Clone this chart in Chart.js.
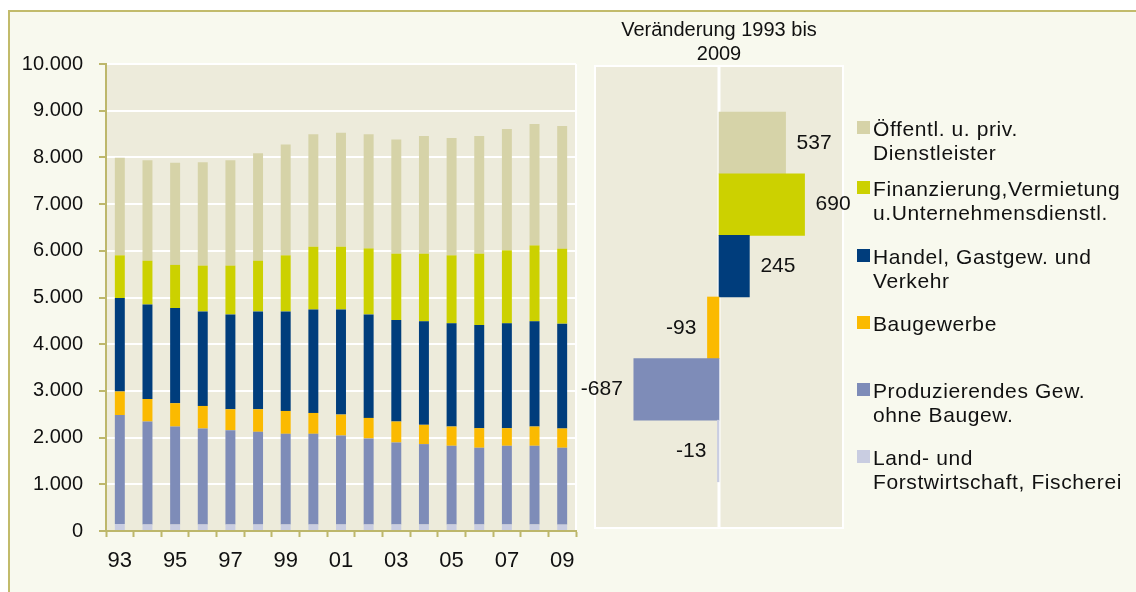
<!DOCTYPE html>
<html><head><meta charset="utf-8">
<script src="https://cdn.jsdelivr.net/npm/chart.js@4.4.1/dist/chart.umd.min.js"></script>
<style>
html,body{margin:0;padding:0;background:#fff;width:1136px;height:592px;overflow:hidden;font-family:"Liberation Sans",Arial,sans-serif;}
#frame{position:absolute;left:8px;top:10px;width:1200px;height:700px;border-left:2px solid #C2BB6B;border-top:2px solid #C2BB6B;background:#F8F9EE;}
#leftChart{position:absolute;left:0;top:0;}
#rightChart{position:absolute;left:580px;top:0;}
.item{position:absolute;left:857px;font-size:21px;line-height:24px;letter-spacing:0.6px;color:#111;}
.sw{position:absolute;left:0;top:4px;width:13px;height:13px;}
.txt{margin-left:16px;white-space:nowrap;}
</style></head>
<body>
<div id="frame"></div>
<canvas id="leftChart" width="600" height="592"></canvas>
<canvas id="rightChart" width="280" height="592"></canvas>
<div id="legend"></div>
<script>
// ---- data ----
const years = ['93','94','95','96','97','98','99','00','01','02','03','04','05','06','07','08','09'];
// sectors, ordered top -> bottom as in the legend
const sectorNames = [
  ['Öffentl. u. priv.', 'Dienstleister'],
  ['Finanzierung,Vermietung', 'u.Unternehmensdienstl.'],
  ['Handel, Gastgew. und', 'Verkehr'],
  ['Baugewerbe'],
  ['Produzierendes Gew.', 'ohne Baugew.'],
  ['Land- und', 'Forstwirtschaft, Fischerei']
];
const oeffentl   = [2091,2152,2188,2216,2258,2301,2372,2407,2443,2443,2443,2521,2514,2521,2599,2599,2628];
const finanz     = [915,937,923,980,1044,1086,1200,1343,1343,1413,1421,1449,1456,1527,1563,1626,1605];
const handel     = [2000,2024,2038,2024,2031,2095,2131,2216,2251,2216,2173,2216,2209,2209,2244,2252,2245];
const bau        = [505,483,500,483,448,483,490,447,448,440,448,412,412,419,377,412,412];
const produz     = [2333,2204,2097,2055,2019,1984,1941,1941,1905,1842,1756,1721,1685,1643,1685,1685,1646];
const landwirt   = [150,140,140,140,140,140,140,140,140,140,140,140,140,140,140,140,137];
const changes    = [537, 690, 245, -93, -687, -13];
const yTicks     = [0,1000,2000,3000,4000,5000,6000,7000,8000,9000,10000];
const changeTitle = ['Veränderung 1993 bis', '2009'];

// ---- styles ----
const seriesValues = [oeffentl, finanz, handel, bau, produz, landwirt];
const colors = ['#D6D3A8', '#CCD100', '#003D7C', '#FBBA00', '#7E8CB8', '#C9CDE1'];
const legendTops = [117, 177, 245, 312, 379, 446];
const FONT = '"Liberation Sans", Arial, sans-serif';
const OLIVE = '#BDB76B';
const PANEL = '#EDEBDB';

function fmt(v){ return String(v).replace(/\B(?=(\d{3})+(?!\d))/g, '.'); }

const leftPanel = {
  id: 'leftPanel',
  beforeDraw(c){
    const {ctx, chartArea: a} = c;
    ctx.save();
    ctx.fillStyle = PANEL;
    ctx.fillRect(a.left, a.top, a.width, a.height);
    ctx.strokeStyle = '#FFFFFF';
    ctx.lineWidth = 2;
    ctx.beginPath(); ctx.moveTo(a.right, a.top); ctx.lineTo(a.right, a.bottom); ctx.stroke();
    ctx.restore();
  }
};

// stacked datasets bottom -> top
const leftDatasets = seriesValues.map((vals, i) => ({
  label: sectorNames[i].join(' '),
  data: vals,
  backgroundColor: colors[i],
  borderWidth: 0,
  barPercentage: 0.36,
  categoryPercentage: 1
})).reverse();

new Chart(document.getElementById('leftChart'), {
  type: 'bar',
  data: { labels: years, datasets: leftDatasets },
  plugins: [leftPanel],
  options: {
    responsive: false,
    animation: false,
    layout: { padding: { top: 64, right: 24, left: 0, bottom: 0 } },
    plugins: { legend: { display: false }, tooltip: { enabled: false } },
    scales: {
      x: {
        stacked: true,
        afterFit: s => { s.height = 61; },
        grid: { drawOnChartArea: false, offset: true, tickLength: 6, tickColor: OLIVE, tickWidth: 2 },
        border: { color: OLIVE, width: 2 },
        ticks: {
          autoSkip: false, maxRotation: 0, padding: 11,
          color: '#111', font: { family: FONT, size: 22 },
          callback: (v, i) => (i % 2 === 0 ? years[i] : '')
        }
      },
      y: {
        stacked: true, min: 0, max: 10000,
        afterFit: s => { s.width = 106; },
        afterBuildTicks: s => { s.ticks = yTicks.map(v => ({ value: v })); },
        grid: { color: '#FFFFFF', lineWidth: 2, tickLength: 7, tickColor: OLIVE, tickWidth: 2 },
        border: { color: OLIVE, width: 2 },
        ticks: { padding: 16, color: '#111', font: { family: FONT, size: 20 }, callback: v => fmt(v) }
      }
    }
  }
});

const rightPanel = {
  id: 'rightPanel',
  beforeDatasetsDraw(c){
    const {ctx, chartArea: a} = c;
    ctx.save();
    ctx.fillStyle = PANEL;
    ctx.fillRect(a.left, a.top, a.width, a.height);
    ctx.strokeStyle = '#FFFFFF';
    ctx.lineWidth = 2;
    ctx.strokeRect(a.left, a.top, a.width, a.height);
    const x0 = c.scales.x.getPixelForValue(0);
    ctx.lineWidth = 3;
    ctx.beginPath(); ctx.moveTo(x0, a.top); ctx.lineTo(x0, a.bottom); ctx.stroke();
    ctx.restore();
  },
  afterDatasetsDraw(c){
    const {ctx} = c;
    const meta = c.getDatasetMeta(0);
    ctx.save();
    ctx.font = '21px ' + FONT;
    ctx.fillStyle = '#111';
    ctx.textBaseline = 'middle';
    meta.data.forEach((bar, i) => {
      const v = changes[i];
      const pos = v >= 0;
      ctx.textAlign = pos ? 'left' : 'right';
      ctx.fillText(String(v), bar.x + (pos ? 11 : -11), bar.y);
    });
    ctx.restore();
  }
};

new Chart(document.getElementById('rightChart'), {
  type: 'bar',
  data: {
    datasets: [{
      data: changes.map((v, i) => ({ x: v, y: i + 1 })),
      backgroundColor: colors,
      borderWidth: 0,
      barPercentage: 1,
      categoryPercentage: 1
    }]
  },
  plugins: [rightPanel],
  options: {
    indexAxis: 'y',
    responsive: false,
    animation: false,
    layout: { padding: { top: 0, left: 15, right: 17, bottom: 64 } },
    plugins: {
      legend: { display: false }, tooltip: { enabled: false },
      title: {
        display: true, text: changeTitle, color: '#111',
        font: { family: FONT, size: 20, weight: 'normal', lineHeight: 1.2 },
        padding: { top: 18, bottom: 0 }
      }
    },
    scales: {
      x: { type: 'linear', min: -1000, max: 1000, display: false },
      y: {
        type: 'linear', min: -0.25, max: 7.25, reverse: true, display: false, offset: false,
        afterBuildTicks: s => { s.ticks = s.ticks.filter(t => Number.isInteger(t.value)); }
      }
    }
  }
});

// HTML legend
const legend = document.getElementById('legend');
sectorNames.forEach((lines, i) => {
  const item = document.createElement('div');
  item.className = 'item';
  item.style.top = legendTops[i] + 'px';
  const sw = document.createElement('div');
  sw.className = 'sw';
  sw.style.background = colors[i];
  item.appendChild(sw);
  const txt = document.createElement('div');
  txt.className = 'txt';
  txt.innerHTML = lines.join('<br>');
  item.appendChild(txt);
  legend.appendChild(item);
});
</script>
</body></html>
